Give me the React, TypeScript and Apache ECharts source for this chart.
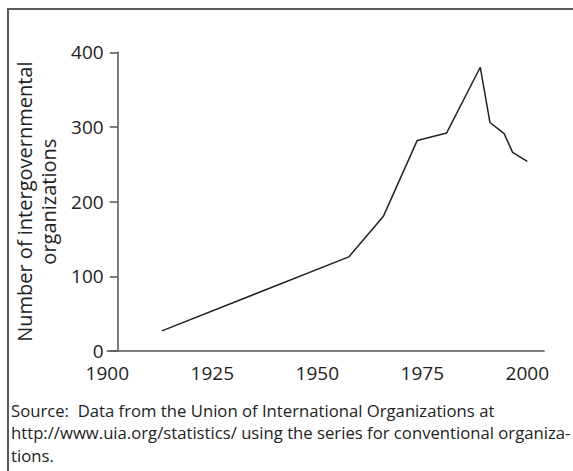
import React, { useEffect, useRef } from "react";
import * as echarts from "echarts";

const years = [1913, 1957.5, 1965.7, 1973.8, 1980.8, 1988.8, 1991.1, 1994.5, 1996.5, 2000];
const counts = [27, 126, 180, 282, 292, 380, 306, 291, 266, 254];
const xTickLabels = [1900, 1925, 1950, 1975, 2000];
const yAxisTitle = "Number of intergovernmental\norganizations";
const sourceLines = [
  "Source:  Data from the Union of International Organizations at",
  "http://www.uia.org/statistics/ using the series for conventional organiza-",
  "tions.",
];

const FONT = '"Open Sans", "Noto Sans", sans-serif';

export default function App() {
  const ref = useRef<HTMLDivElement>(null);
  useEffect(() => {
    if (!ref.current) return;
    const chart = echarts.init(ref.current, undefined, { renderer: "svg" });
    chart.setOption({
      animation: false,
      backgroundColor: "transparent",
      grid: { left: 107.3, top: 52.3, width: 436.8, height: 298.7, containLabel: false },
      xAxis: {
        type: "value",
        min: 1900,
        max: 2004,
        interval: 25,
        axisLine: { show: true, lineStyle: { color: "#555", width: 1.5 } },
        axisTick: { show: false },
        splitLine: { show: false },
        axisLabel: {
          margin: 13,
          fontSize: 19,
          lineHeight: 18,
          fontFamily: FONT,
          color: "#222",
          formatter: (v: number) => (xTickLabels.includes(v) ? String(v) : ""),
        },
      },
      yAxis: {
        type: "value",
        min: 0,
        max: 400,
        interval: 100,
        offset: -10.4,
        axisLine: { show: true, lineStyle: { color: "#555", width: 1.5 } },
        axisTick: { show: true, length: 8, lineStyle: { color: "#555", width: 1.5 } },
        splitLine: { show: false },
        axisLabel: { margin: 14, fontSize: 19, lineHeight: 16, fontFamily: FONT, color: "#222" },
        name: yAxisTitle,
        nameLocation: "middle",
        nameRotate: 90,
        nameGap: 57,
        nameTextStyle: { fontSize: 20, fontFamily: FONT, color: "#222", lineHeight: 24 },
      },
      series: [
        {
          type: "line",
          data: years.map((y, i) => [y, counts[i]]),
          symbol: "none",
          lineStyle: { color: "#222", width: 1.5 },
        },
      ],
      graphic: [
        {
          type: "text",
          left: 11,
          top: 399,
          style: {
            text: sourceLines.join("\n"),
            font: `16.7px ${FONT}`,
            lineHeight: 22.5,
            fill: "#222",
          },
        },
      ],
    });
    return () => chart.dispose();
  }, []);
  return (
    <div style={{ position: "absolute", left: 0, top: 0, width: 573, height: 471, background: "#fff" }}>
      <div style={{ position: "absolute", left: 7, top: 8, width: 566, height: 2, background: "#5a5a5a" }} />
      <div style={{ position: "absolute", left: 7, top: 8, width: 2, height: 463, background: "#5a5a5a" }} />
      <div ref={ref} style={{ position: "absolute", left: 0, top: 0, width: 573, height: 471 }} />
    </div>
  );
}
